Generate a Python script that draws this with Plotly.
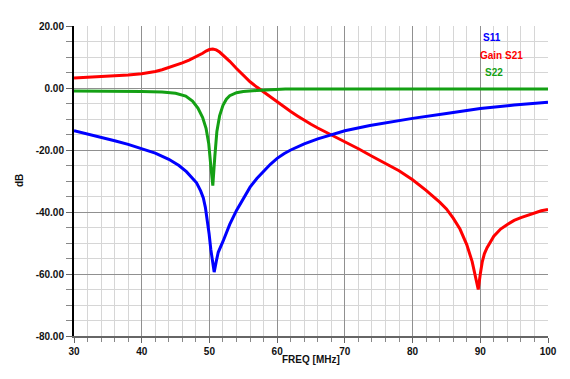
import plotly.graph_objects as go

# ---------------- data ----------------
s21_freq = [30, 32, 34, 36, 38, 40, 42, 43, 44, 45, 46, 47, 48, 49, 49.5, 50, 50.5, 51, 51.5, 52, 53, 54, 55,
            56, 57, 58, 59, 60, 61, 62, 63, 64, 65, 66, 67, 68, 70, 72, 74, 76, 78, 80, 82, 84, 85, 86, 87,
            88, 88.8, 89.3, 89.7, 90.0, 90.3, 90.6, 91, 92, 93, 94, 95, 96, 97, 98, 99, 100]
s21_db = [3.2, 3.4, 3.6, 3.9, 4.2, 4.6, 5.3, 5.9, 6.6, 7.3, 8.1, 9.0, 10.0, 11.2, 11.9, 12.4, 12.6, 12.3,
          11.6, 10.7, 8.6, 6.3, 4.0, 2.0, 0.3, -1.3, -3.0, -4.6, -6.2, -7.6, -9.0, -10.4, -11.7, -12.9,
          -14.0, -15.0, -17.2, -19.6, -22.0, -24.3, -26.7, -29.6, -33.0, -36.8, -39.0, -42.0, -45.5, -50.5,
          -56.0, -61.0, -65.0, -60.0, -56.0, -53.5, -51.5, -47.8, -45.5, -44.0, -42.7, -41.8, -41.0, -40.2,
          -39.6, -39.2]

s11_freq = [30, 32, 34, 36, 38, 40, 42, 44, 45.5, 46.6, 47.5, 48.1, 48.7, 49.1, 49.4, 49.7, 49.95, 50.2,
            50.45, 50.7, 51.0, 51.3, 52, 53, 54, 55, 56, 57, 58, 59, 60, 61, 62, 64, 66, 68, 70, 73.7, 76,
            80, 85, 90, 95, 100]
s11_db = [-13.8, -14.8, -15.9, -17.0, -18.2, -19.5, -21.0, -23.0, -25.0, -27.0, -29.0, -30.6, -33.2, -35.5,
          -38.5, -42.5, -47.0, -52.0, -56.5, -59.4, -56.0, -53.0, -49.5, -44.0, -39.5, -35.5, -32.0, -29.2,
          -26.8, -24.6, -22.7, -21.2, -20.0, -18.0, -16.4, -15.1, -13.8, -12.1, -11.2, -9.8, -8.2, -6.6,
          -5.5, -4.6]

s22_freq = [30, 35, 40, 43, 45, 46.5, 47.5, 48.3, 49, 49.5, 49.9, 50.2, 50.5, 50.8, 51.1, 51.5, 52, 52.5,
            53, 54, 55, 57, 60, 61, 61.2, 65, 70, 80, 90, 100]
s22_db = [-1.0, -1.0, -1.1, -1.3, -1.7, -2.6, -4.2, -6.5, -9.5, -13.0, -18.0, -25.0, -31.5, -22.0, -14.0,
          -9.0, -5.6, -3.6, -2.5, -1.5, -1.1, -0.8, -0.6, -0.5, -0.3, -0.3, -0.3, -0.3, -0.3, -0.3]

x_ticks = [30, 40, 50, 60, 70, 80, 90, 100]
x_ticktext = ["30", "40", "50", "60", "70", "80", "90", "100"]
y_ticks = [-80, -60, -40, -20, 0, 20]
y_ticktext = ["-80.00", "-60.00", "-40.00", "-20.00", "0.00", "20.00"]

series_names = ["S11", "Gain S21", "S22"]
series_colors = ["#0000ff", "#ff0000", "#14a014"]

# ---------------- figure ----------------
fig = go.Figure()
fig.add_trace(go.Scatter(x=s21_freq, y=s21_db, mode="lines", name=series_names[1],
                         line=dict(color=series_colors[1], width=3)))
fig.add_trace(go.Scatter(x=s22_freq, y=s22_db, mode="lines", name=series_names[2],
                         line=dict(color=series_colors[2], width=3)))
fig.add_trace(go.Scatter(x=s11_freq, y=s11_db, mode="lines", name=series_names[0],
                         line=dict(color=series_colors[0], width=3)))

# page body has an 8px margin, so the figure is shifted by 8px
OFF = 8
W, H = 570 - OFF, 379 - OFF
L, R, T, B = 74 - OFF, 22, 20 - OFF, 43
pw, ph = W - L - R, H - T - B

def px(xp):  # window pixel -> paper x
    return (xp - OFF - L) / pw

def py(yp):  # window pixel -> paper y
    return (H - B - (yp - OFF)) / ph

tfont = dict(family="Liberation Sans, Arial, sans-serif", size=10, color="#111", weight="bold")

fig.update_layout(
    width=W, height=H,
    margin=dict(l=L, r=R, t=T, b=B),
    paper_bgcolor="white", plot_bgcolor="white",
    showlegend=False,
    xaxis=dict(range=[30, 100], tickvals=x_ticks, ticktext=x_ticktext,
               showgrid=True, gridcolor="#909090", gridwidth=1,
               ticks="outside", ticklen=5, tickcolor="#666", tickwidth=1,
               showline=True, linecolor="#666", linewidth=2, zeroline=False,
               tickfont=tfont,
               minor=dict(dtick=2, showgrid=True, gridcolor="#d6d6d6", ticks="outside",
                          ticklen=4, tickcolor="#888")),
    yaxis=dict(range=[-80, 20], tickvals=y_ticks, ticktext=y_ticktext,
               showgrid=True, gridcolor="#909090", gridwidth=1,
               ticks="outside", ticklen=6, tickcolor="#666", tickwidth=1,
               showline=True, linecolor="#000", linewidth=2, zeroline=False,
               tickfont=tfont,
               minor=dict(dtick=5, showgrid=True, gridcolor="#d6d6d6", ticks="outside",
                          ticklen=6, tickcolor="#888")),
)

afont = dict(family="Liberation Sans, Arial, sans-serif", size=10, weight="bold")
fig.add_annotation(text="FREQ [MHz]", xref="paper", yref="paper", x=px(311), y=py(360),
                   xanchor="center", yanchor="middle", showarrow=False, font=dict(afont, color="#111"))
fig.add_annotation(text="dB", xref="paper", yref="paper", x=px(19), y=py(178), textangle=-90,
                   xanchor="center", yanchor="middle", showarrow=False, font=dict(afont, color="#111"))

legend_pos = [(492, 32), (501, 50), (494, 67)]
for name, col, (lx, ly) in zip(series_names, series_colors, legend_pos):
    fig.add_annotation(text=name, xref="paper", yref="paper", x=px(lx), y=py(ly),
                       xanchor="center", yanchor="middle", showarrow=False,
                       font=dict(afont, color=col))

fig.write_html("out.html")
